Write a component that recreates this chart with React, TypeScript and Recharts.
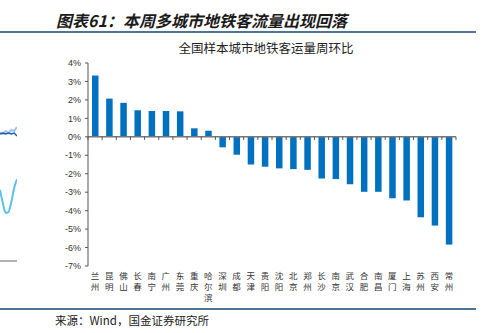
import { BarChart, Bar, XAxis, YAxis, ReferenceLine, LineChart, Line } from "recharts";

const CITIES = [
  "兰州", "昆明", "佛山", "长春", "南宁", "广州", "东莞", "重庆", "哈尔滨",
  "深圳", "成都", "天津", "贵阳", "沈阳", "北京", "郑州", "长沙", "南京",
  "武汉", "合肥", "南昌", "厦门", "上海", "苏州", "西安", "常州",
];

// 周环比, %
const WOW = [
  3.32, 2.07, 1.84, 1.44, 1.4, 1.4, 1.38, 0.46, 0.33, -0.57, -0.97, -1.5, -1.62,
  -1.71, -1.75, -1.79, -2.26, -2.29, -2.57, -2.98, -2.98, -3.33, -3.45, -4.36,
  -4.81, -5.84,
];

const Y_TICKS = [-7, -6, -5, -4, -3, -2, -1, 0, 1, 2, 3, 4];

// cut-off edge of the neighbouring chart on the left
const FRAG_X = [0, 1, 2, 3, 4, 5, 6];
const FRAG_DARK = [131, 132, 131, 132, 131, 132, 129];
const FRAG_PALE = [133, 131, 134, 132, 135, 134, 138];
const FRAG_CURVE = [75, 62, 52, 53, 63, 77, 86];

const data = CITIES.map((city, i) => ({ city, wow: WOW[i] }));
const fragData = FRAG_X.map((x, i) => ({
  x,
  dark: FRAG_DARK[i],
  pale: FRAG_PALE[i],
  curve: FRAG_CURVE[i],
}));

const CJK = '"Noto Sans CJK SC", "Noto Sans", sans-serif';
const AXIS = "#555";

// vertical city name, one character per line
function CityTick({ x, y, payload }: any) {
  const chars = String(payload.value).split("");
  return (
    <text
      x={x}
      y={y + 13}
      textAnchor="middle"
      fontSize={8.5}
      fill="#333"
      fontFamily={CJK}
    >
      {chars.map((c, i) => (
        <tspan key={i} x={x} dy={i === 0 ? 0 : 10.8}>
          {c}
        </tspan>
      ))}
    </text>
  );
}

export default function App() {
  const last = CITIES[CITIES.length - 1];
  return (
    <div
      style={{
        position: "absolute",
        left: 0,
        top: 0,
        width: 485,
        height: 333,
        background: "#fff",
        overflow: "hidden",
        fontFamily: CJK,
      }}
    >
      <div
        style={{
          position: "absolute",
          left: 56,
          top: 8,
          fontSize: 16,
          fontWeight: 700,
          fontStyle: "italic",
          color: "#1a1a1a",
          whiteSpace: "nowrap",
          lineHeight: "24px",
        }}
      >
        图表61：本周多城市地铁客流量出现回落
      </div>
      <div
        style={{
          position: "absolute",
          left: 0,
          top: 31,
          width: 476,
          height: 2,
          background: "#4d7396",
        }}
      />
      <div
        style={{
          position: "absolute",
          left: 166,
          top: 39,
          width: 200,
          textAlign: "center",
          fontSize: 12.5,
          color: "#222",
          whiteSpace: "nowrap",
          lineHeight: "18px",
        }}
      >
        全国样本城市地铁客运量周环比
      </div>

      <div style={{ position: "absolute", left: 0, top: 115 }}>
        <LineChart
          width={17}
          height={150}
          data={fragData}
          margin={{ top: 0, right: 0, bottom: 0, left: 0 }}
        >
          <XAxis dataKey="x" hide />
          <YAxis domain={[0, 150]} hide />
          <ReferenceLine y={4} stroke="#666" strokeWidth={1} />
          <Line dataKey="pale" stroke="#9dc3e6" strokeWidth={2} dot={false} isAnimationActive={false} />
          <Line dataKey="dark" stroke="#1f5fa8" strokeWidth={1.5} dot={false} isAnimationActive={false} />
          <Line type="monotone" dataKey="curve" stroke="#5bc0eb" strokeWidth={2} dot={false} isAnimationActive={false} />
        </LineChart>
      </div>

      <div style={{ position: "absolute", left: 0, top: 0 }}>
        <BarChart
          width={485}
          height={333}
          data={data}
          margin={{ top: 63, right: 29, bottom: 27, left: 0 }}
          barSize={6.5}
        >
          <XAxis
            dataKey="city"
            interval={0}
            axisLine={false}
            tickLine={false}
            tickSize={0}
            tickMargin={0}
            height={40}
            tick={<CityTick />}
          />
          <YAxis
            width={88}
            domain={[-7, 4]}
            ticks={Y_TICKS}
            interval={0}
            tickFormatter={(v: number) => `${v}%`}
            axisLine={{ stroke: AXIS }}
            tickLine={{ stroke: AXIS }}
            tickSize={3}
            tickMargin={4}
            tick={{ fontSize: 9, fill: "#333", fontFamily: "Liberation Sans, Arial, sans-serif" }}
          />
          <Bar dataKey="wow" fill="#0070c0" isAnimationActive={false} />
          <ReferenceLine y={0} stroke="#777" strokeWidth={1.5} />
          {CITIES.map((c) => (
            <ReferenceLine
              key={c}
              segment={[
                { x: c, y: 0 },
                { x: c, y: -0.17 },
              ]}
              position="start"
              stroke={AXIS}
              ifOverflow="visible"
            />
          ))}
          <ReferenceLine
            segment={[
              { x: last, y: 0 },
              { x: last, y: -0.17 },
            ]}
            position="end"
            stroke={AXIS}
            ifOverflow="visible"
          />
        </BarChart>
      </div>

      <div
        style={{
          position: "absolute",
          left: 0,
          top: 308,
          width: 476,
          height: 2,
          background: "#4d7396",
        }}
      />
      <div
        style={{
          position: "absolute",
          left: 55,
          top: 312,
          fontSize: 11.5,
          color: "#222",
          whiteSpace: "nowrap",
          lineHeight: "16px",
        }}
      >
        来源：Wind，国金证券研究所
      </div>
    </div>
  );
}
